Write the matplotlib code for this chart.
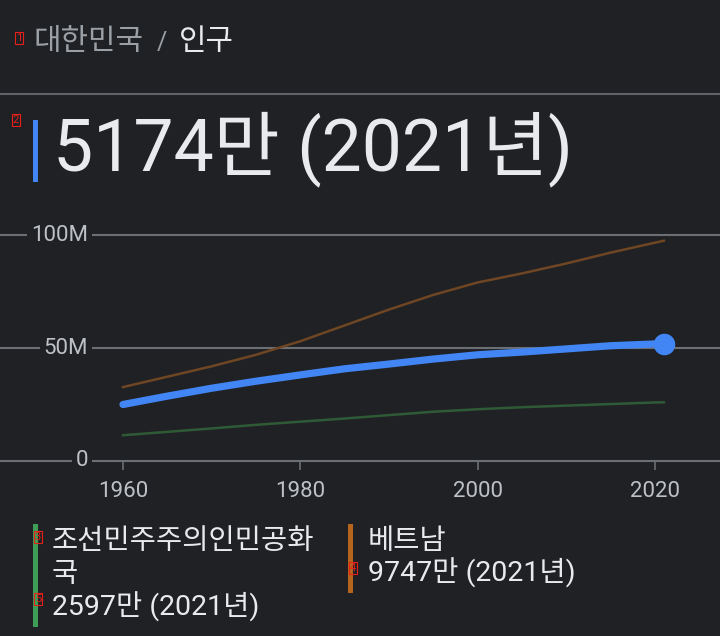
import matplotlib
matplotlib.use("Agg")
import matplotlib.pyplot as plt
from matplotlib.lines import Line2D
from matplotlib.patches import Rectangle

plt.rcParams['font.family'] = ['Roboto', 'Noto Sans CJK KR', 'DejaVu Sans']

# ---------------- data ----------------
years = [1960, 1965, 1970, 1975, 1980, 1985, 1990, 1995, 2000, 2005, 2010, 2015, 2020, 2021]
korea = [25.0, 28.7, 32.2, 35.3, 38.1, 40.8, 42.9, 45.1, 47.0, 48.2, 49.6, 51.0, 51.8, 51.74]
vietnam = [32.7, 37.3, 41.9, 47.0, 53.0, 60.0, 67.0, 73.5, 79.0, 83.0, 87.4, 92.2, 96.6, 97.47]
nkorea = [11.4, 12.9, 14.4, 16.0, 17.4, 18.8, 20.3, 21.8, 22.9, 23.8, 24.5, 25.2, 25.9, 25.97]

y_ticks = [0, 50, 100]
y_tick_labels = ["0", "50M", "100M"]
x_ticks = [1960, 1980, 2000, 2020]
x_tick_labels = ["1960", "1980", "2000", "2020"]

breadcrumb_parent = "대한민국"
breadcrumb_current = "인구"
headline = "5174만 (2021년)"
legend_nk_name = ["조선민주주의인민공화", "국"]
legend_nk_value = "2597만 (2021년)"
legend_vn_name = "베트남"
legend_vn_value = "9747만 (2021년)"
marker_labels = ["1", "2", "3", "4", "5"]

# ---------------- style ----------------
BG = "#202124"
GRID = "#6b6e72"
LABEL = "#bdc1c6"
TEXT = "#e8eaed"
MUTED = "#9aa0a6"
BLUE = "#4285f4"
VN_LINE = "#6e4623"
NK_LINE = "#2f5a36"
VN_BAR = "#b5651d"
NK_BAR = "#3d9e58"
KFONT = ['Noto Sans CJK KR', 'DejaVu Sans']
NFONT = ['Roboto', 'Noto Sans CJK KR']

W, H = 720, 636
fig = plt.figure(figsize=(W / 100, H / 100), dpi=100, facecolor=BG)

def fx(px):
    return px / W

def fy(py):
    return 1 - py / H

# header
fig.text(fx(34), fy(42), breadcrumb_parent, color=MUTED, fontsize=21.5,
         ha="left", va="center", family=KFONT)
fig.text(fx(157), fy(43), "/", color=MUTED, fontsize=18, ha="left", va="center")
fig.text(fx(179), fy(42), breadcrumb_current, color=TEXT, fontsize=21.5,
         ha="left", va="center", family=KFONT)
fig.add_artist(Line2D([0, 1], [fy(94), fy(94)], color="#5f6368", lw=1.5,
                      transform=fig.transFigure))

# headline
fig.add_artist(Rectangle((fx(33), fy(182)), fx(5), (182 - 120) / H,
                         transform=fig.transFigure, color=BLUE, lw=0))
fig.text(fx(53), fy(149), headline, color=TEXT, fontsize=51.5,
         ha="left", va="center", family=NFONT)

# ---------------- chart ----------------
px_per_year = (655 - 123) / 60.0
x_left = 1960 - 123 / px_per_year
x_right = 1960 + (720 - 123) / px_per_year
px_per_m = (461 - 235) / 100.0
y_top = 100 + (235 - 225) / px_per_m

ax = fig.add_axes([0, fy(461), 1, (461 - 225) / H])
ax.set_facecolor(BG)
ax.set_xlim(x_left, x_right)
ax.set_ylim(0, y_top)
for s in ax.spines.values():
    s.set_visible(False)

for yv in y_ticks:
    ax.axhline(yv, color=GRID, lw=1.5, zorder=1, clip_on=False)

ax.plot(years, vietnam, color=VN_LINE, lw=1.8, zorder=2, clip_on=False)
ax.plot(years, nkorea, color=NK_LINE, lw=1.8, zorder=2, clip_on=False)
ax.plot(years, korea, color=BLUE, lw=5.2, solid_capstyle="round",
        solid_joinstyle="round", zorder=3, clip_on=False)
ax.plot([years[-1]], [korea[-1]], "o", color=BLUE, markersize=14.5,
        zorder=4, clip_on=False)

ax.set_yticks([])
ax.set_xticks(x_ticks)
ax.set_xticklabels(x_tick_labels)
ax.tick_params(axis="x", direction="out", length=6.5, width=1.2, color=GRID,
               labelcolor=LABEL, labelsize=16, pad=8)

label_x = 1960 - (123 - 88) / px_per_year
for yv, lab in zip(y_ticks, y_tick_labels):
    ax.text(label_x, yv, lab, color=LABEL, fontsize=16, ha="right", va="center",
            zorder=5, bbox=dict(boxstyle="square,pad=0.18", fc=BG, ec="none"))

# ---------------- legend ----------------
LFS = 20.5
fig.add_artist(Rectangle((fx(33), fy(627)), fx(4.5), (627 - 524) / H,
                         transform=fig.transFigure, color=NK_BAR, lw=0))
for i, line in enumerate(legend_nk_name):
    fig.text(fx(52), fy(541 + 33 * i), line, color=TEXT, fontsize=LFS,
             ha="left", va="center", family=KFONT)
fig.text(fx(52), fy(607), legend_nk_value, color=TEXT, fontsize=LFS,
         ha="left", va="center", family=NFONT)

fig.add_artist(Rectangle((fx(348), fy(593)), fx(5), (593 - 524) / H,
                         transform=fig.transFigure, color=VN_BAR, lw=0))
fig.text(fx(368), fy(541), legend_vn_name, color=TEXT, fontsize=LFS,
         ha="left", va="center", family=KFONT)
fig.text(fx(368), fy(573), legend_vn_value, color=TEXT, fontsize=LFS,
         ha="left", va="center", family=NFONT)

# small red annotation markers
marker_pos = [(19, 38), (16, 120), (38, 537), (353, 568), (38, 599)]
for (mx, my), lab in zip(marker_pos, marker_labels):
    fig.text(fx(mx), fy(my), lab, color="#e8201a", fontsize=8, ha="center",
             va="center", bbox=dict(boxstyle="square,pad=0.12", fc="none",
                                    ec="#e8201a", lw=0.8))

fig.savefig("out.png", dpi=100, facecolor=BG)
